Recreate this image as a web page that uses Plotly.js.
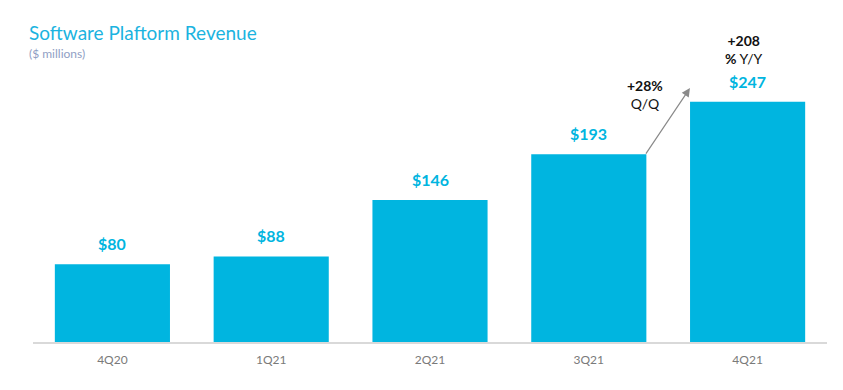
<!DOCTYPE html>
<html>
<head>
<meta charset="utf-8">
<script src="https://cdn.plot.ly/plotly-3.0.1.min.js"></script>
<style>html,body{margin:0;padding:0;background:#fff;}#chart{width:843px;height:390px;}</style>
</head>
<body>
<div id="chart"></div>
<script>
const categories = ["4Q20", "1Q21", "2Q21", "3Q21", "4Q21"];
const revenue = [80, 88, 146, 193, 247];
const valueLabels = ["$80", "$88", "$146", "$193", "$247"];
const qoqText = ["+28%", "Q/Q"];
const yoyText = ["+208", "%", "Y/Y"];

const barColor = "#00b5e0";
const FONT = "Lato, 'Open Sans', sans-serif";

const trace = {
  type: "bar",
  x: categories,
  y: revenue,
  marker: {color: barColor},
  width: 0.725,
  hoverinfo: "none"
};

const annotations = categories.map((c, i) => ({
  x: c, y: revenue[i], xref: "x", yref: "y",
  text: "<b>" + valueLabels[i] + "</b>",
  showarrow: false, yanchor: "bottom", yshift: 9,
  font: {family: FONT, size: 16, color: barColor}
}));

annotations.push({
  xref: "paper", yref: "paper", x: -0.008, y: 0.96,
  text: "Software Plaftorm Revenue",
  showarrow: false, xanchor: "left", yanchor: "middle",
  font: {family: FONT, size: 19, color: "#1bb3e0"}
});
annotations.push({
  xref: "paper", yref: "paper", x: -0.008, y: 0.8975,
  text: "($ millions)", showarrow: false, xanchor: "left", yanchor: "middle",
  font: {family: FONT, size: 12, color: "#8fa0c4"}
});

annotations.push({
  x: 3.637, y: 261, xref: "x", yref: "y",
  ax: -45, ay: 67, axref: "pixel", ayref: "pixel",
  text: "", showarrow: true, arrowhead: 2, arrowsize: 1.4, arrowwidth: 1.2,
  arrowcolor: "#8a8a8a"
});

annotations.push({
  x: 3.354, y: 254, xref: "x", yref: "y",
  text: "<b>" + qoqText[0] + "</b><br>" + qoqText[1], showarrow: false,
  font: {family: FONT, size: 14, color: "#111"}
});
annotations.push({
  x: 3.98, y: 301, xref: "x", yref: "y",
  text: "<b>" + yoyText[0] + "</b><br><b>" + yoyText[1] + "</b> " + yoyText[2], showarrow: false,
  font: {family: FONT, size: 14, color: "#111"}
});

const layout = {
  width: 843, height: 390,
  margin: {l: 33, r: 16, t: 20, b: 48},
  paper_bgcolor: "#fff", plot_bgcolor: "#fff",
  showlegend: false,
  xaxis: {
    type: "category",
    showline: true, linecolor: "#d9d9d9", linewidth: 1.5,
    showgrid: false, ticks: "", zeroline: false,
    ticklabelstandoff: 6,
    tickfont: {family: FONT, size: 12, color: "#7a7a7a"}
  },
  yaxis: {
    range: [0, 331], visible: false, showgrid: false, zeroline: false
  },
  annotations: annotations
};

Plotly.newPlot("chart", [trace], layout, {staticPlot: true, displayModeBar: false});
</script>
</body>
</html>
